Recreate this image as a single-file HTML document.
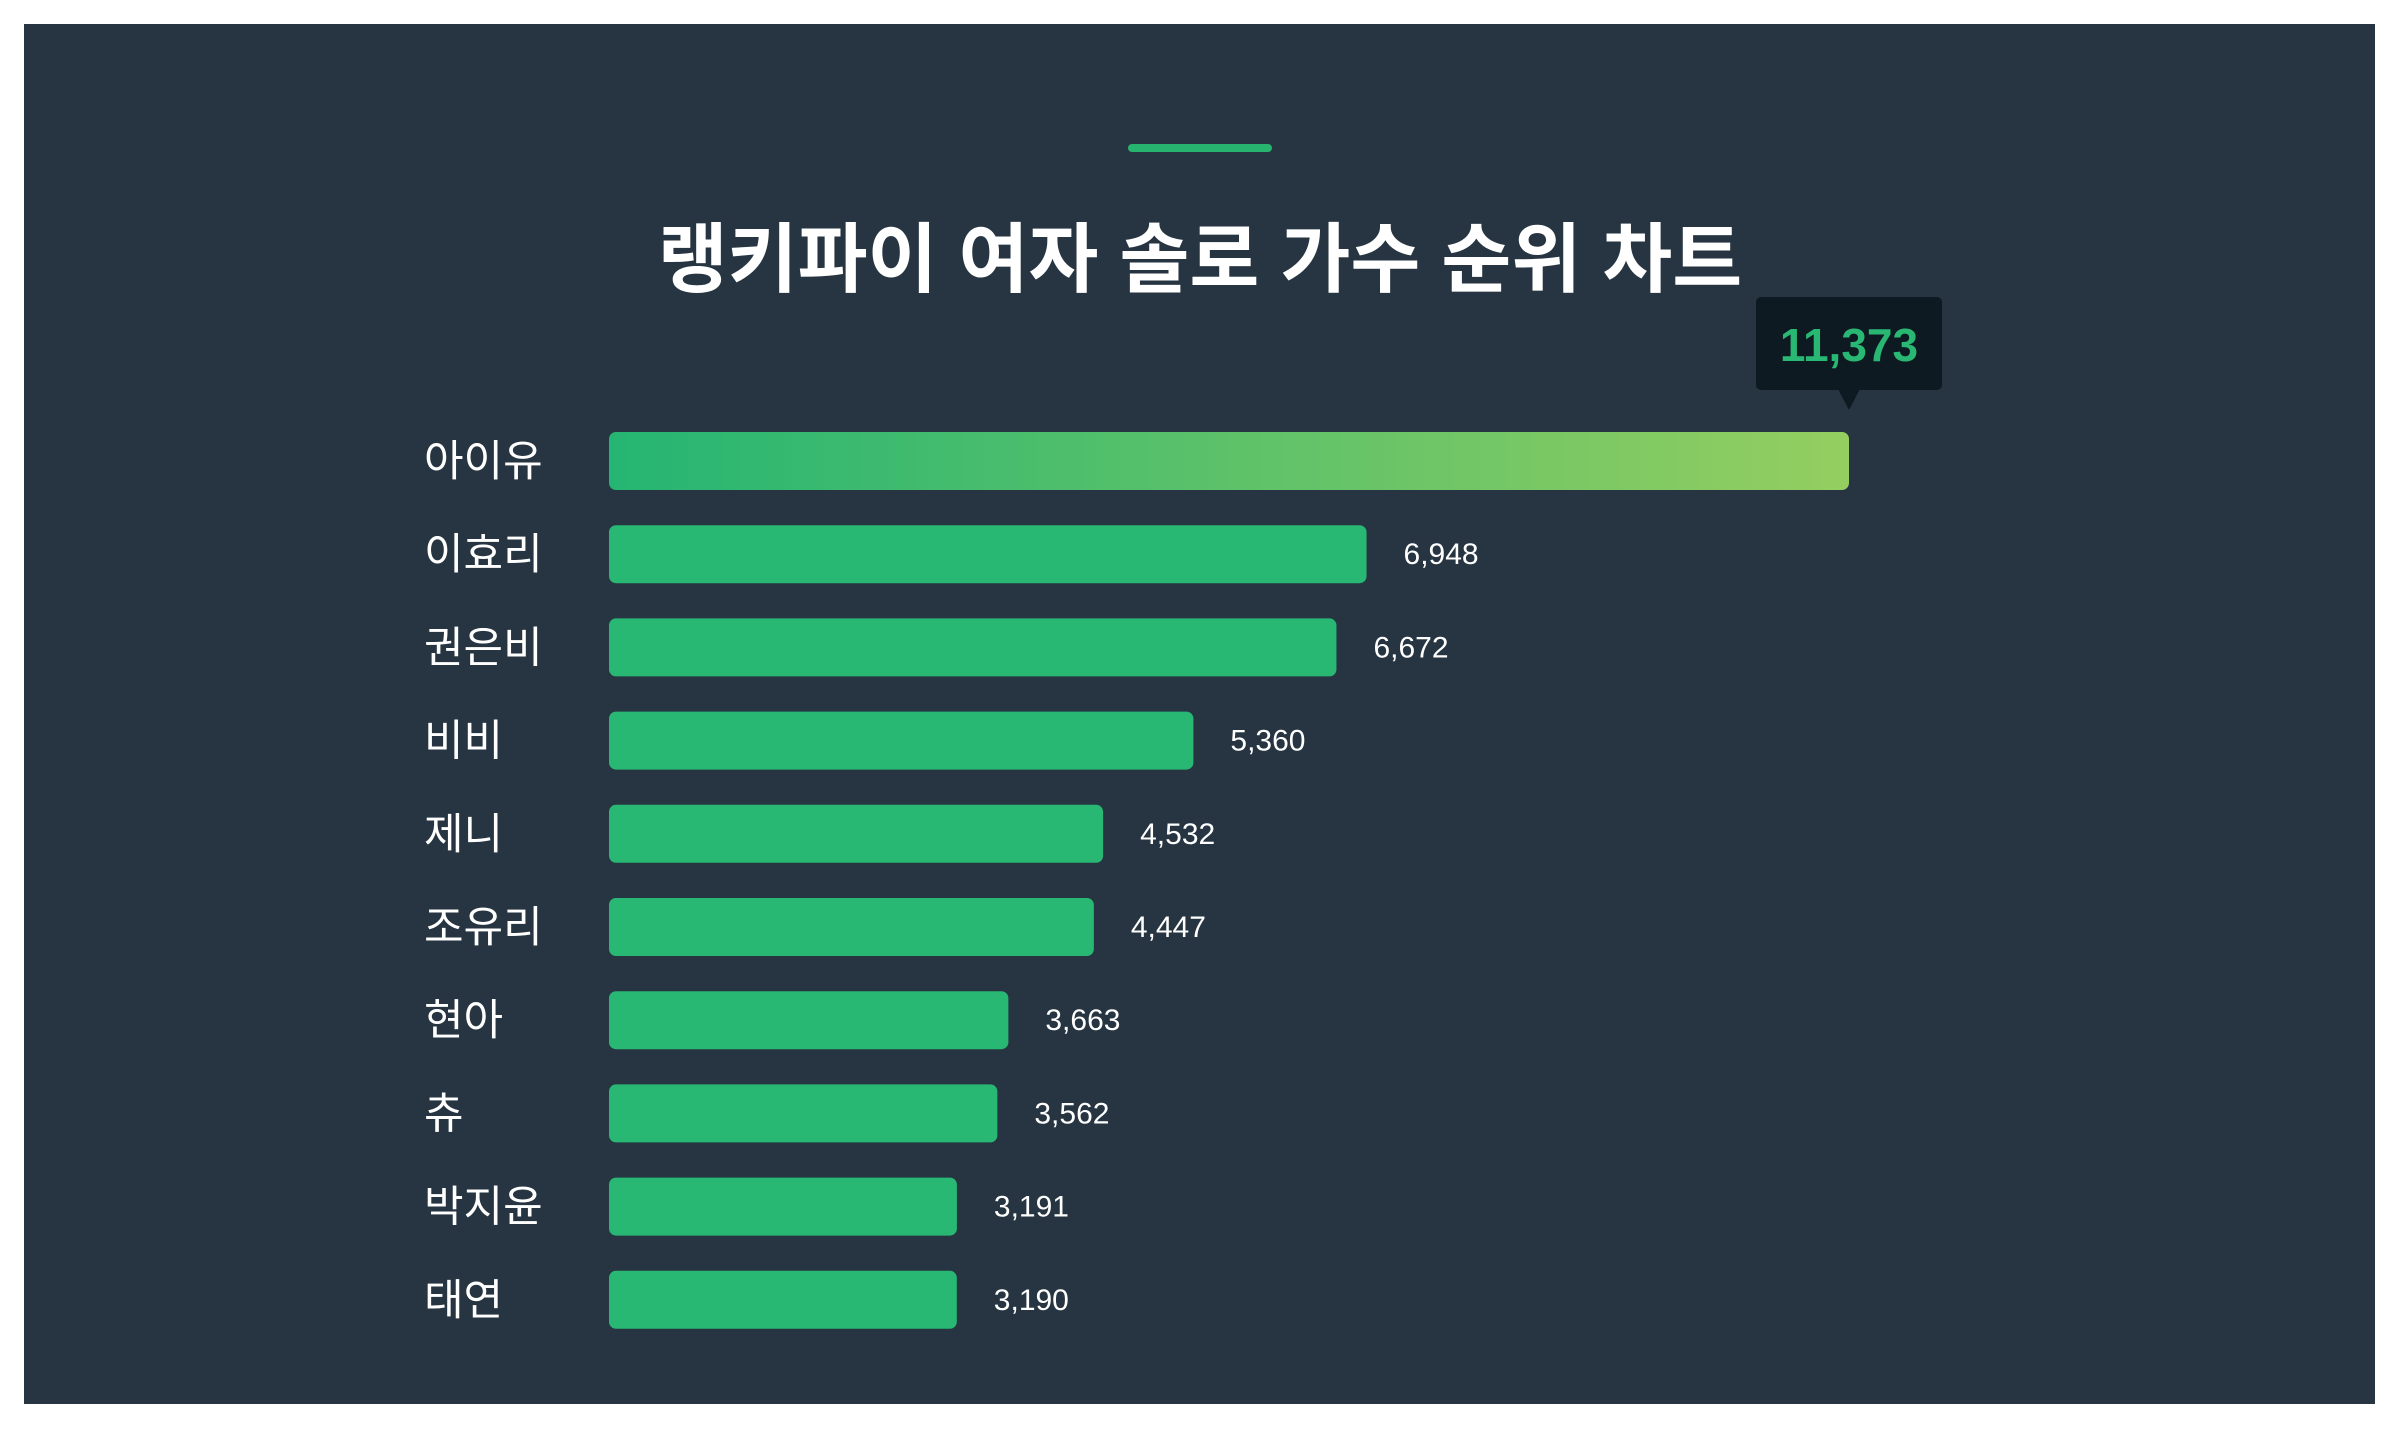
<!DOCTYPE html>
<html><head><meta charset="utf-8">
<style>
html,body{margin:0;padding:0;background:#fff;}
body{width:2400px;height:1440px;position:relative;overflow:hidden;font-family:"Liberation Sans","Noto Sans CJK KR",sans-serif;}
#panel{position:absolute;left:24px;top:24px;width:2351px;height:1380px;background:#263541;}
</style></head>
<body>
<div id="panel">
<svg id="chart" width="2351" height="1380">
<defs>
<linearGradient id="g1" x1="0" x2="1" y1="0" y2="0">
<stop offset="0" stop-color="#25b573"/><stop offset="1" stop-color="#94ce60"/>
</linearGradient>
</defs>
<rect x="1104" y="120" width="144" height="8" rx="4" fill="#27b46f"/>
<text x="1176" y="262" text-anchor="middle" fill="#ffffff" font-size="76" font-weight="bold" font-family="Liberation Sans, Noto Sans CJK KR, sans-serif">랭키파이 여자 솔로 가수 순위 차트</text>
</svg>
</div>
<script>
const categories=["아이유","이효리","권은비","비비","제니","조유리","현아","츄","박지윤","태연"];
const values=[11373,6948,6672,5360,4532,4447,3663,3562,3191,3190];
const valueLabels=["11,373","6,948","6,672","5,360","4,532","4,447","3,663","3,562","3,191","3,190"];
const svg=document.getElementById('chart');
const NS='http://www.w3.org/2000/svg';
const x0=585, maxW=1240, maxV=11373;
const xScale=v=>v/maxV*maxW;
const yCenter=i=>437+i*93.2;
const barH=58;
function mk(t,a){const e=document.createElementNS(NS,t);for(const k in a)e.setAttribute(k,a[k]);return e;}
categories.forEach((c,i)=>{
  const cy=yCenter(i);
  const lab=mk('text',{x:400,y:cy+15,fill:'#ffffff','font-size':43,'font-family':'Liberation Sans, Noto Sans CJK KR, sans-serif'});
  
  
  lab.textContent=c;svg.appendChild(lab);
  const w=xScale(values[i]);
  const bar=mk('rect',{x:x0,y:cy-barH/2,width:w,height:barH,rx:7,fill:i===0?'url(#g1)':'#29b873'});
  
  
  svg.appendChild(bar);
  if(i===0){
    const tx=x0+w;
    const g=mk('g',{});
    
    
    g.appendChild(mk('rect',{x:tx-93,y:273,width:186,height:93,rx:5,fill:'#0e1a22'}));
    g.appendChild(mk('polygon',{points:`${tx-11},365 ${tx+11},365 ${tx},386`,fill:'#0e1a22'}));
    const t=mk('text',{x:tx,y:337,'text-anchor':'middle',fill:'#29b873','font-size':46,'font-weight':'bold','font-family':'Liberation Sans, sans-serif'});
    t.textContent=valueLabels[i];g.appendChild(t);
    svg.appendChild(g);
  }else{
    const v=mk('text',{x:x0+w+37,y:cy+10,fill:'#ffffff','font-size':30,'font-family':'Liberation Sans, sans-serif'});
    
    
    v.textContent=valueLabels[i];svg.appendChild(v);
  }
});
</script>
</body></html>
